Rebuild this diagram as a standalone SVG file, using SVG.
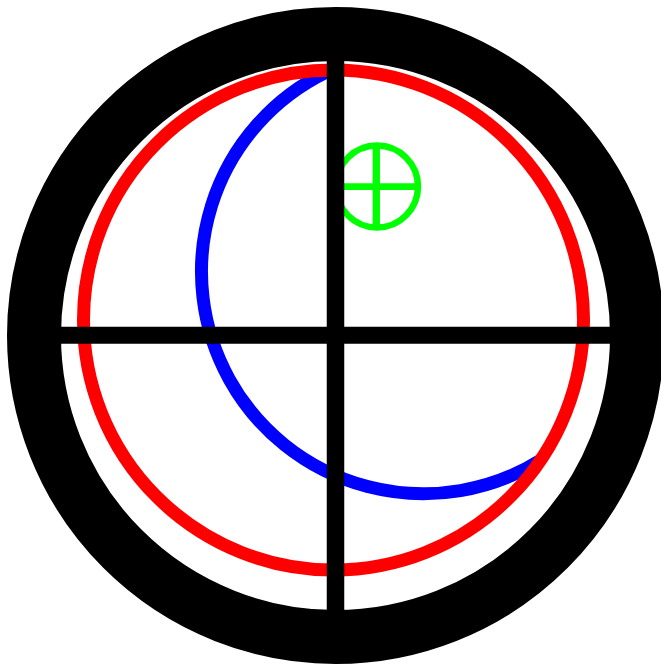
<svg xmlns="http://www.w3.org/2000/svg" width="661" height="667" viewBox="0 0 661 667">
<style>
.s{fill:none}
.blk{stroke:#000000}
</style>
<rect x="0" y="0" width="661" height="667" fill="#ffffff"/>
<g id="green-sign" class="s" stroke="#00ff00" stroke-width="6.5">
<circle cx="377" cy="186.5" r="41"/>
<line x1="335" y1="186.7" x2="418" y2="186.7" stroke-width="6.8"/>
<line x1="376.3" y1="145.5" x2="376.3" y2="227.5" stroke-width="7.3"/>
</g>
<path id="blue-arc" class="s" stroke="#0000ff" stroke-width="13" d="M 325.7 72.4 A 222 222 0 1 0 540.6 460.3"/>
<circle id="red-circle" class="s" cx="333.5" cy="320" r="250" stroke="#ff0000" stroke-width="13"/>
<circle id="black-ring" class="s blk" cx="335.5" cy="335.5" r="301.5" stroke-width="54"/>
<g id="cross" class="blk">
<line x1="335.5" y1="40" x2="335.5" y2="630" stroke-width="17.5"/>
<line x1="40" y1="335.3" x2="630" y2="335.3" stroke-width="17"/>
</g>
</svg>
